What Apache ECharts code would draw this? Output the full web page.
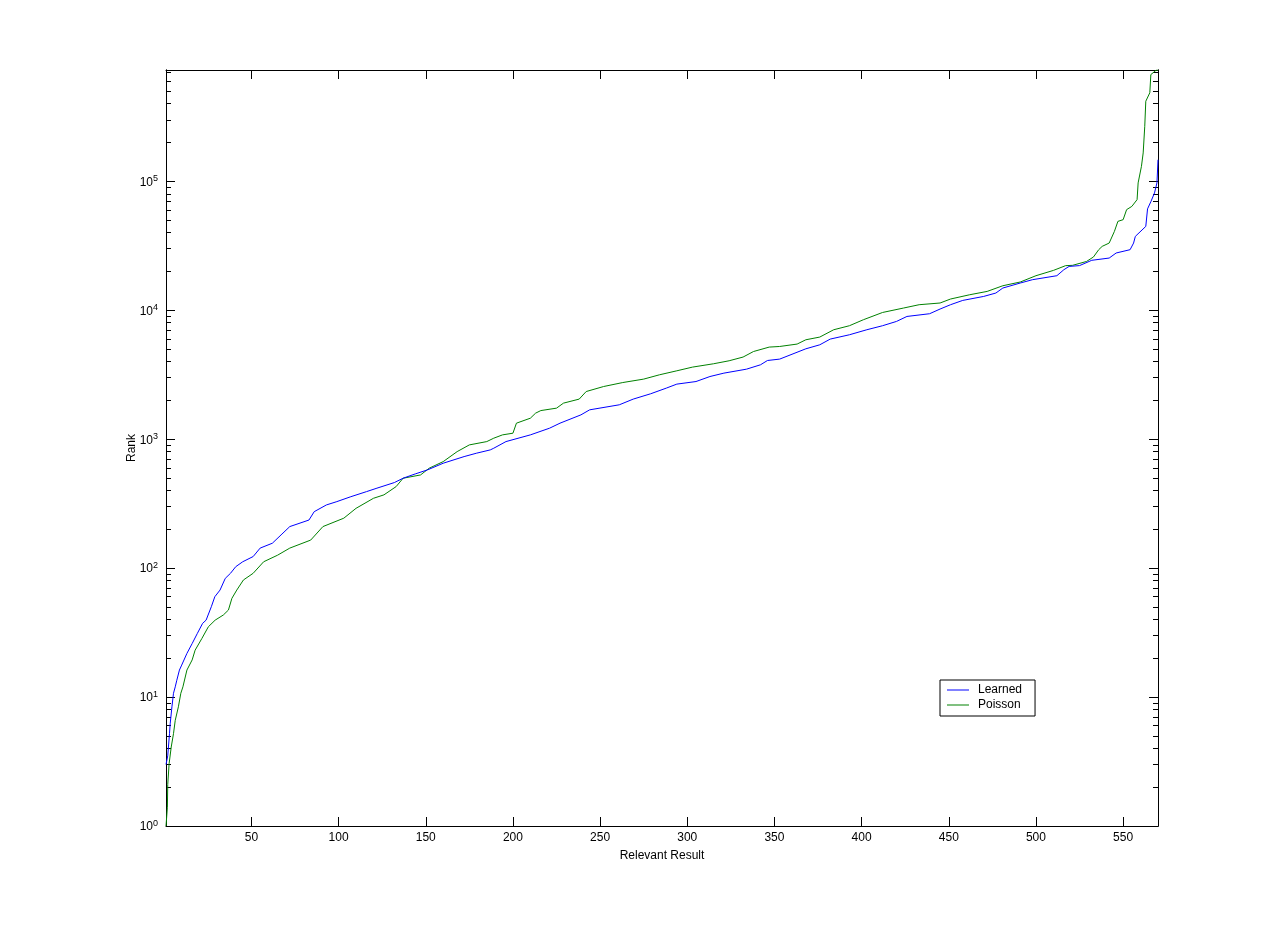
<!DOCTYPE html>
<html>
<head>
<meta charset="utf-8">
<script src="https://cdn.jsdelivr.net/npm/echarts@6/dist/echarts.min.js"></script>
<style>html,body{margin:0;padding:0;background:#fff;}#c{width:1280px;height:928px;}</style>
</head>
<body>
<div id="c"></div>
<script>
// ---- data ----
const learnedX = [1,2,3,3.4,4.4,5.3,6.3,7.2,8.7,10,13,16,19,22,24,27,29,32,35,38,41,45,51,55,62,67,72,83,86,93,99,107,116,122,132,137,144,151,160,172,179,187,189,196,210,221,227,239,244,261,269,279,288,294,305,313,321,334,342,346,353,368,376,382,393,403,412,420,426,439,445,451,458,470,477,481,491,498,512,516,519,525,532,542,546,554,556,557,563,564,566,568,569.4,570];
const learnedY = [3,3.5,5.2,6.2,8.4,10.7,12,13.5,16.2,17.7,21.8,26,31.2,37.3,39.5,50.2,60,67.6,83.3,91.2,102.6,112,123,143,156,181,210,236,274,309,328,358,392,417,461,498,538,578,651,733,778,826,851,958,1080,1217,1331,1544,1689,1848,2046,2250,2490,2674,2800,3062,3253,3493,3776,4077,4180,5023,5396,5975,6454,7060,7586,8190,8954,9397,10220,11040,11920,12800,13600,14870,16260,17260,18530,20620,21880,22200,24400,25400,27800,29500,33200,37400,44700,61100,70000,81300,97200,147000];
const poissonX = [1,1.8,2,2.8,4,5.3,6.3,8.1,9.5,10.7,13,16,17.7,21.6,25.3,29.2,33.9,36.8,38.8,41.6,45.4,51,57,65,72,84,91,103,110,120,126,133,137,147,152,160,168,175,185,189,194,200,202,210,213,216,225,229,238,242,252,263,275,284,294,303,315,324,332,338,347,353,363,368,376,384,393,401,412,424,433,445,451,462,472,481,491,500,510,517,521,529,533,536,538,542,545,547,550,552,555,558,558.6,560.5,561.5,562.4,563,565.3,565.9,569,570];
const poissonY = [1,1.4,2.1,3.05,4.1,5.2,6.6,8.4,10.7,12,16.2,19.4,23.1,28.5,35.1,39.5,43.3,47.3,58.3,67.6,80.9,91.2,112,126,143,165,210,244,291,348,370,429,498,528,596,670,801,903,958,1018,1080,1113,1331,1455,1592,1667,1741,1904,2046,2342,2561,2750,2924,3157,3391,3623,3844,4057,4335,4786,5180,5236,5466,5903,6194,7060,7586,8440,9610,10400,11040,11380,12220,13190,14000,15490,16560,18530,20370,22180,22300,23900,25900,29500,31300,33200,40900,48900,50400,60300,63900,72100,97200,130700,166000,267000,418000,486000,673000,728000,730000];
const xTickValues = [50,100,150,200,250,300,350,400,450,500,550];
const yMajorValues = [1,10,100,1000,10000,100000];
const yMinorValues = [];
for (let e = 0; e <= 5; e++) { for (let m = 2; m <= 9; m++) { const v = m * Math.pow(10, e); if (v <= 730000) yMinorValues.push(v); } }
const seriesNames = ['Learned', 'Poisson'];
const xName = 'Relevant Result';
const yName = 'Rank';
const X_MIN = 1, X_MAX = 570, Y_MIN = 1, Y_MAX = 730000;

const pair = (xs, ys) => xs.map((x, i) => [x, ys[i]]);
const FONT = 'Liberation Sans, Arial, sans-serif';
const black = '#000';
const axisLine = { show: true, lineStyle: { color: black, width: 1 } };

function yAx(pos, values, len, labels) {
  return {
    type: 'log', logBase: 10, min: Y_MIN, max: Y_MAX, position: pos,
    axisLine: axisLine,
    splitLine: { show: false }, minorTick: { show: false },
    axisTick: { show: true, inside: true, length: len, customValues: values, lineStyle: { color: black } },
    axisLabel: labels ? {
      show: true, customValues: yMajorValues, margin: 8, fontFamily: FONT, fontSize: 12, color: black,
      formatter: v => '{b|10}{s|' + Math.round(Math.log10(v)) + '}',
      rich: { b: { fontSize: 12, fontFamily: FONT, color: black, verticalAlign: 'bottom', lineHeight: 14 },
              s: { fontSize: 9, fontFamily: FONT, color: black, verticalAlign: 'top', lineHeight: 14, padding: [0, 0, 10, 0] } }
    } : { show: false },
    name: labels ? yName : '', nameLocation: 'middle', nameGap: 28, nameMoveOverlap: false,
    nameTextStyle: { fontFamily: FONT, fontSize: 12, color: black }
  };
}
function xAx(pos, labels) {
  return {
    type: 'value', min: X_MIN, max: X_MAX, position: pos,
    axisLine: axisLine, splitLine: { show: false },
    axisTick: { show: true, inside: true, length: 9, customValues: xTickValues, lineStyle: { color: black } },
    axisLabel: labels ? { show: true, customValues: xTickValues, margin: 6, fontFamily: FONT, fontSize: 12, color: black } : { show: false },
    name: labels ? xName : '', nameLocation: 'middle', nameGap: 24, nameMoveOverlap: false,
    nameTextStyle: { fontFamily: FONT, fontSize: 12, color: black }
  };
}

const chart = echarts.init(document.getElementById('c'), null, { renderer: 'canvas' });
chart.setOption({
  backgroundColor: '#fff',
  animation: false,
  grid: { left: 166, top: 70, width: 992, height: 756, containLabel: false },
  xAxis: [xAx('bottom', true), xAx('top', false)],
  yAxis: [yAx('left', yMajorValues, 9, true), yAx('left', yMinorValues, 5, false),
          yAx('right', yMajorValues, 9, false), yAx('right', yMinorValues, 5, false)],
  legend: {
    left: 940, top: 680, orient: 'vertical',
    backgroundColor: '#fff', borderColor: black, borderWidth: 1,
    padding: [4, 13, 5, 7], itemGap: 3, itemWidth: 22, itemHeight: 1, icon: 'rect',
    textStyle: { fontFamily: FONT, fontSize: 12, color: black, lineHeight: 12, padding: [0, 0, 0, 4] },
    data: seriesNames
  },
  series: [
    { name: seriesNames[0], type: 'line', xAxisIndex: 0, yAxisIndex: 0, data: pair(learnedX, learnedY),
      symbol: 'none', lineStyle: { color: '#0000ff', width: 1 }, itemStyle: { color: '#0000ff' }, z: 3 },
    { name: seriesNames[1], type: 'line', xAxisIndex: 0, yAxisIndex: 0, data: pair(poissonX, poissonY),
      symbol: 'none', lineStyle: { color: '#008000', width: 1 }, itemStyle: { color: '#008000' }, z: 2 }
  ]
});
</script>
</body>
</html>
